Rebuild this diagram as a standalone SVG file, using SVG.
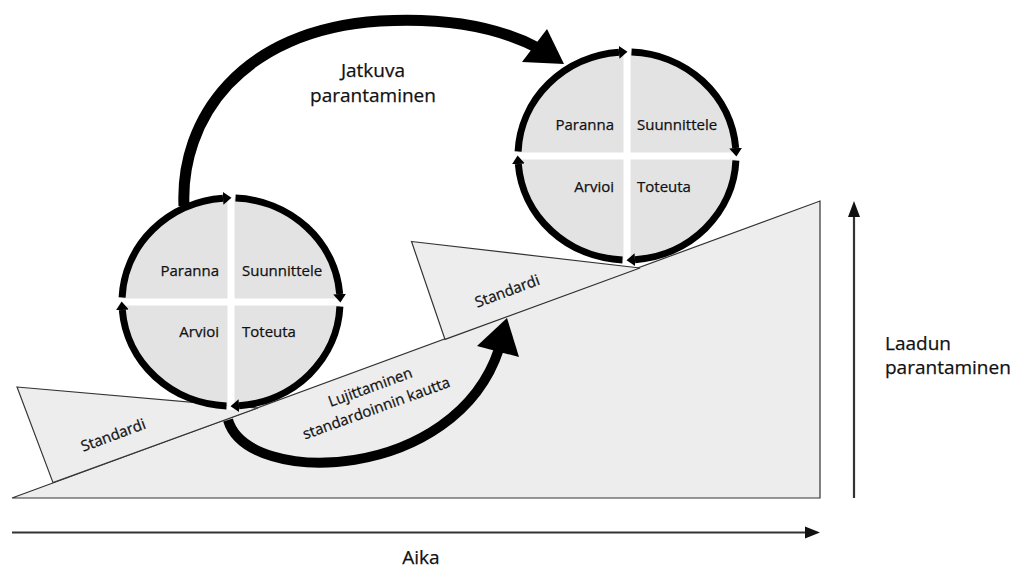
<svg xmlns="http://www.w3.org/2000/svg" width="1018" height="570" viewBox="0 0 1018 570">
<defs>
<style>
.t{font-family:"Open Sans","Liberation Sans",sans-serif;fill:#111;stroke:#111;stroke-width:0.25px}
.s15{font-size:15px}
.s19{font-size:19px}
.disk{fill:#e3e3e3}
.gap{stroke:#fff;stroke-width:7}
.ring{fill:none;stroke:#000;stroke-width:7;marker-end:url(#ah)}
.plane{fill:#ededed;stroke:#333;stroke-width:1.2;stroke-linejoin:miter}
.big{fill:none;stroke:#000}
.axis{stroke:#333;stroke-width:2.2;fill:none}
</style>
<marker id="ah" markerUnits="userSpaceOnUse" markerWidth="10" markerHeight="16" viewBox="0 0 10 16" refX="0" refY="8" orient="auto">
<path d="M0,1.5 L8.5,8 L0,14.5 z" fill="#000"/>
</marker>
</defs>
<rect width="1018" height="570" fill="#fff"/>

<g id="slope">
<polygon class="plane" points="12,498 820,201 820,498"/>
</g>
<g id="standard-left">
<polygon class="plane" points="17,387 258,408 53,482.6"/>
<text class="t s15" text-anchor="middle" transform="translate(115,440) rotate(-20.5)">Standardi</text>
</g>
<g id="standard-right">
<polygon class="plane" points="411.5,241.5 640,268 445,339.4"/>
<text class="t s15" text-anchor="middle" transform="translate(509,296) rotate(-20.5)">Standardi</text>
</g>

<g id="connectors">
<path class="big" stroke-width="10" d="M228,420 C248,488 455,482 499,349"/>
<polygon points="507,318 519,357 477,346" fill="#000"/>
<path class="big" stroke-width="11" d="M184,206 C180,120 240,30 380,21 C450,17 500,28 538,48"/>
<polygon points="547,29 522,62 564,64" fill="#000"/>
<path class="axis" d="M12,532.5 H807"/>
<polygon points="805,526.5 820,532.5 805,538.5" fill="#111"/>
<path class="axis" d="M854,498 V214"/>
<polygon points="848,217 854,201 860,217" fill="#111"/>
</g>

<g id="cycle-1">
<ellipse class="disk" cx="231" cy="302" rx="109" ry="104"/>
<path class="gap" d="M122,302 H340 M231,198 V410"/>
<path class="ring" d="M122.1,297.5 A109 104 0 0 1 223,198.3"/>
<path class="ring" d="M235.5,198.1 A109 104 0 0 1 339.7,294"/>
<path class="ring" d="M339.9,306.5 A109 104 0 0 1 239,405.7"/>
<path class="ring" d="M226.5,405.9 A109 104 0 0 1 122.3,310"/>
<text class="t s15" x="219" y="275.5" text-anchor="end">Paranna</text>
<text class="t s15" x="242" y="275.5">Suunnittele</text>
<text class="t s15" x="219" y="337" text-anchor="end">Arvioi</text>
<text class="t s15" x="242" y="337">Toteuta</text>
</g>

<g id="cycle-2">
<ellipse class="disk" cx="627" cy="156" rx="109" ry="104"/>
<path class="gap" d="M518,156 H736 M627,52 V264"/>
<path class="ring" d="M518.1,151.5 A109 104 0 0 1 619,52.3"/>
<path class="ring" d="M631.5,52.1 A109 104 0 0 1 735.7,148"/>
<path class="ring" d="M735.9,160.5 A109 104 0 0 1 635,259.7"/>
<path class="ring" d="M622.5,259.9 A109 104 0 0 1 518.3,164"/>
<text class="t s15" x="614" y="130" text-anchor="end">Paranna</text>
<text class="t s15" x="637" y="130">Suunnittele</text>
<text class="t s15" x="614" y="192" text-anchor="end">Arvioi</text>
<text class="t s15" x="637" y="192">Toteuta</text>
</g>

<g id="label-jatkuva">
<text class="t s19" x="373" y="77" text-anchor="middle">Jatkuva</text>
<text class="t s19" x="373" y="102" text-anchor="middle">parantaminen</text>
</g>
<g id="label-lujittaminen">
<text class="t s15" text-anchor="middle" transform="translate(372,392) rotate(-20)">Lujittaminen</text>
<text class="t s15" text-anchor="middle" transform="translate(378,413) rotate(-20)">standardoinnin kautta</text>
</g>
<g id="label-laadun">
<text class="t s19" x="885" y="350">Laadun</text>
<text class="t s19" x="885" y="373.5">parantaminen</text>
</g>
<g id="label-aika">
<text class="t s19" x="421" y="564" text-anchor="middle">Aika</text>
</g>
</svg>
